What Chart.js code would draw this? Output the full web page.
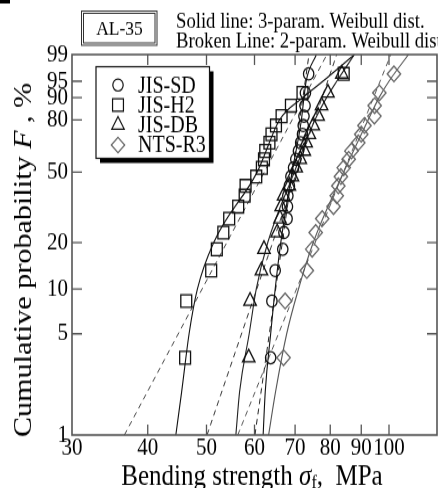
<!DOCTYPE html>
<html>
<head>
<meta charset="utf-8">
<script src="https://cdn.jsdelivr.net/npm/chart.js@4.4.1/dist/chart.umd.min.js"></script>
<style>
html, body { margin: 0; padding: 0; background: #fff; overflow: hidden; width: 438px; height: 488px; }
#wrap { transform: scaleY(1.16); transform-origin: 0 0; }
canvas { display: block; }
</style>
</head>
<body>
<div id="wrap"><canvas id="myChart" width="446" height="421"></canvas></div>
<script>
// cumulative probability (median rank, %) of each of the 20 specimens
const probF = [3.43, 8.33, 13.24, 18.14, 23.04, 27.94, 32.84, 37.75, 42.65, 47.55,
               52.45, 57.35, 62.25, 67.16, 72.06, 76.96, 81.86, 86.76, 91.67, 96.57];
// bending strength, MPa
const sdStrength = [63.8, 64.1, 64.9, 66.8, 67.1, 67.9, 68.0, 68.1, 68.5, 68.9,
                    69.6, 70.2, 70.9, 71.5, 72.0, 72.2, 72.4, 72.7, 72.8, 73.7];
const h2Strength = [46.1, 46.3, 50.9, 52.0, 53.3, 54.5, 56.4, 57.8, 58.0, 60.4,
                    61.7, 62.2, 62.5, 63.5, 64.0, 65.1, 66.5, 68.9, 72.0, 84.2];
const dbStrength = [58.7, 59.0, 61.6, 62.2, 65.4, 66.1, 66.4, 67.0, 68.5, 69.3,
                    70.3, 71.4, 72.5, 73.0, 73.9, 75.0, 76.4, 77.4, 79.3, 83.6];
const r3Strength = [67.0, 67.4, 73.2, 74.7, 75.7, 77.6, 81.0, 82.0, 82.5, 83.3,
                    84.2, 85.8, 86.7, 89.0, 90.0, 91.1, 94.6, 94.7, 96.4, 101.9];

// solid lines (3-param. Weibull), read at these probabilities
const fitF = [1, 2, 5, 10, 20, 50, 80, 90, 95, 99];
const sdFit3 = [62.0, 62.5, 63.8, 64.9, 66.3, 69.2, 71.7, 72.4, 73.0, 75.9];
const h2Fit3 = [44.5, 45.5, 46.8, 48.3, 51.4, 60.6, 66.0, 72.1, 77.8, 87.7];
const dbFit3 = [55.9, 56.7, 58.8, 60.4, 63.1, 69.8, 75.5, 78.9, 82.0, 87.7];
const r3Fit3 = [63.3, 65.0, 67.8, 70.9, 75.0, 84.2, 92.4, 96.3, 100.0, 107.7];

// broken lines (2-param. Weibull), straight on this paper
const fit2F = [1, 99];
const sdFit2 = [60.1, 73.8];
const h2Fit2 = [36.6, 79.0];
const dbFit2 = [50.1, 82.0];
const r3Fit2 = [56.3, 100.7];

const xTicks = [30, 40, 50, 60, 70, 80, 90, 100];
const yTicks = [1, 5, 10, 20, 50, 80, 90, 95, 99];

const FONT = '"Liberation Serif", "Times New Roman", serif';
Chart.defaults.font.family = FONT;
Chart.defaults.color = '#000';

// Weibull probability axis: ln(-ln(1-F))
function wb(p) { return Math.log(-Math.log(1 - p / 100)); }

class WeibullScale extends Chart.LinearScale {
    buildTicks() { return yTicks.map(v => ({ value: v })); }
    getPixelForValue(value) {
        const a = wb(this.min), b = wb(this.max);
        return this.getPixelForDecimal((wb(value) - a) / (b - a));
    }
    getValueForPixel(pixel) {
        const a = wb(this.min), b = wb(this.max);
        const w = a + this.getDecimalForPixel(pixel) * (b - a);
        return 100 * (1 - Math.exp(-Math.exp(w)));
    }
}
WeibullScale.id = 'weibull';
WeibullScale.defaults = {};
Chart.register(WeibullScale);

function pts(xs, fs) { return xs.map((v, i) => ({ x: v, y: fs[i] })); }

const marks = [
    { label: 'JIS-SD', data: sdStrength, style: 'circle', r: 5.2, color: '#111' },
    { label: 'JIS-H2', data: h2Strength, style: 'rect', r: 7.7, color: '#111' },
    { label: 'JIS-DB', data: dbStrength, style: 'triangle', r: 7.2, color: '#111' },
    { label: 'NTS-R3', data: r3Strength, style: 'rectRot', r: 6.7, color: '#666' }
];

const datasets = [];
marks.forEach(m => {
    datasets.push({
        label: m.label,
        data: pts(m.data, probF),
        pointStyle: m.style,
        pointRadius: m.r,
        pointBorderWidth: 1.3,
        pointBorderColor: m.color,
        pointBackgroundColor: 'rgba(0,0,0,0)',
        showLine: false
    });
});

const solidLines = [[sdFit3, '#111'], [h2Fit3, '#111'], [dbFit3, '#222'], [r3Fit3, '#555']];
solidLines.forEach(s => {
    datasets.push({
        data: pts(s[0], fitF),
        showLine: true,
        pointRadius: 0,
        borderColor: s[1],
        borderWidth: 1.1,
        cubicInterpolationMode: 'monotone'
    });
});
const brokenLines = [[sdFit2, '#222'], [h2Fit2, '#444'], [dbFit2, '#333'], [r3Fit2, '#555']];
brokenLines.forEach(s => {
    datasets.push({
        data: pts(s[0], fit2F),
        showLine: true,
        pointRadius: 0,
        borderColor: s[1],
        borderWidth: 1,
        borderDash: [5, 4]
    });
});

function shape(ctx, style, x, y, r) {
    ctx.beginPath();
    if (style === 'circle') {
        ctx.arc(x, y, r, 0, Math.PI * 2);
    } else if (style === 'rect') {
        const s = r * Math.SQRT1_2;
        ctx.rect(x - s, y - s, 2 * s, 2 * s);
    } else if (style === 'triangle') {
        for (let k = 0; k < 3; k++) {
            const a = k * 2 * Math.PI / 3;
            const px = x + Math.sin(a) * r, py = y - Math.cos(a) * r;
            if (k === 0) ctx.moveTo(px, py); else ctx.lineTo(px, py);
        }
        ctx.closePath();
    } else {
        ctx.moveTo(x, y - r); ctx.lineTo(x + r, y); ctx.lineTo(x, y + r); ctx.lineTo(x - r, y);
        ctx.closePath();
    }
    ctx.stroke();
}

const decor = {
    id: 'decor',
    afterDraw(chart) {
        const { ctx, chartArea: a, scales: { x, y } } = chart;
        ctx.save();
        // frame and inward ticks
        ctx.strokeStyle = '#555';
        ctx.lineWidth = 1.6;
        ctx.strokeRect(a.left, a.top, a.right - a.left, a.bottom - a.top);
        ctx.lineWidth = 1.3;
        ctx.beginPath();
        xTicks.slice(1).forEach(v => {
            const px = x.getPixelForValue(v);
            ctx.moveTo(px, a.bottom); ctx.lineTo(px, a.bottom - 9);
            ctx.moveTo(px, a.top); ctx.lineTo(px, a.top + 9);
        });
        yTicks.slice(1, -1).forEach(v => {
            const py = y.getPixelForValue(v);
            ctx.moveTo(a.left, py); ctx.lineTo(a.left + 10, py);
            ctx.moveTo(a.right, py); ctx.lineTo(a.right - 10, py);
        });
        ctx.stroke();

        ctx.fillStyle = '#000';
        ctx.fillRect(0, 0, 10, 3);

        // AL-35 double box
        ctx.strokeStyle = '#333';
        ctx.lineWidth = 1;
        ctx.strokeRect(81.5, 9.5, 75.5, 29.5);
        ctx.strokeRect(83.5, 11.5, 71.5, 25.5);
        ctx.textBaseline = 'middle';
        ctx.textAlign = 'center';
        ctx.font = '17.5px ' + FONT;
        ctx.fillText('AL-35', 119.5, 25);

        ctx.textAlign = 'left';
        ctx.font = '18.7px ' + FONT;
        ctx.fillText('Solid line: 3-param. Weibull dist.', 176, 19);
        ctx.fillText('Broken Line: 2-param. Weibull dist.', 176, 36.5);

        // legend
        const lx = 96, ly = 57.5, lw = 113.5, lh = 79;
        ctx.fillStyle = '#000';
        ctx.fillRect(lx + 4, ly + 4, lw, lh);
        ctx.fillStyle = '#fff';
        ctx.fillRect(lx, ly, lw, lh);
        ctx.strokeStyle = '#111';
        ctx.lineWidth = 1.2;
        ctx.strokeRect(lx, ly, lw, lh);
        ctx.font = '20px ' + FONT;
        ctx.fillStyle = '#000';
        const rows = [73.3, 90.5, 107.7, 125];
        marks.forEach((m, i) => {
            ctx.strokeStyle = m.color;
            ctx.lineWidth = 1.2;
            shape(ctx, m.style, 118, rows[i], m.r);
            ctx.fillText(m.label, 138, rows[i] + 1);
        });

        // y title (rotated, F in italics)
        ctx.save();
        ctx.translate(24, 224);
        ctx.rotate(-Math.PI / 2);
        const yParts = [['Cumulative probability ', ''], ['F', 'italic '], [' , %', '']];
        let tw = 0;
        yParts.forEach(p => { ctx.font = p[1] + '26px ' + FONT; tw += ctx.measureText(p[0]).width; });
        let cx = -tw / 2;
        yParts.forEach(p => {
            ctx.font = p[1] + '26px ' + FONT;
            ctx.fillText(p[0], cx, 0);
            cx += ctx.measureText(p[0]).width;
        });
        ctx.restore();

        // x title
        ctx.textBaseline = 'alphabetic';
        const xParts = [['Bending strength ', '', 25, 0], ['\u03c3', 'italic ', 25, 0],
                        ['f', '', 16, 3], [',  MPa', '', 25, 0]];
        tw = 0;
        xParts.forEach(p => { ctx.font = p[1] + p[2] + 'px ' + FONT; tw += ctx.measureText(p[0]).width; });
        cx = 252 - tw / 2;
        xParts.forEach(p => {
            ctx.font = p[1] + p[2] + 'px ' + FONT;
            ctx.fillText(p[0], cx, 417.5 + p[3]);
            cx += ctx.measureText(p[0]).width;
        });
        ctx.restore();
    }
};

new Chart(document.getElementById('myChart'), {
    type: 'scatter',
    data: { datasets: datasets },
    options: {
        responsive: false,
        animation: false,
        layout: { padding: { top: 47, right: 4, left: 0, bottom: 0 } },
        plugins: { legend: { display: false }, tooltip: { enabled: false } },
        scales: {
            x: {
                type: 'logarithmic',
                min: 30,
                max: 120,
                afterBuildTicks: s => { s.ticks = xTicks.map(v => ({ value: v })); },
                afterFit: s => { s.height = 46; },
                grid: { display: false, drawTicks: false },
                border: { display: false },
                ticks: {
                    autoSkip: false, maxRotation: 0, padding: -1,
                    font: { size: 21 }, color: '#000',
                    callback: v => String(v)
                }
            },
            y: {
                type: 'weibull',
                min: 1,
                max: 99,
                afterFit: s => { s.width = 72; },
                grid: { display: false, drawTicks: false },
                border: { display: false },
                ticks: {
                    autoSkip: false, padding: 4,
                    font: { size: 21 }, color: '#000',
                    callback: v => String(v)
                }
            }
        }
    },
    plugins: [decor]
});
</script>
</body>
</html>
